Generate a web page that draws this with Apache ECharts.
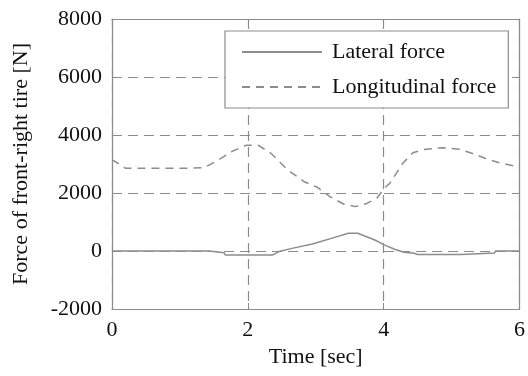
<!DOCTYPE html>
<html>
<head>
<meta charset="utf-8">
<script src="https://cdn.jsdelivr.net/npm/echarts@6/dist/echarts.min.js"></script>
<style>
html,body{margin:0;padding:0;background:#fff;}
#c{width:528px;height:376px;}
</style>
</head>
<body>
<div id="c"></div>
<script>
// Lateral force (solid)
var lateralTime  = [0, 1.43, 1.45, 1.65, 1.67, 2.36, 2.46, 2.65, 2.95, 3.28, 3.48, 3.62, 3.87, 4.01, 4.16, 4.30, 4.45, 4.50, 5.14, 5.16, 5.63, 5.65, 6];
var lateralForce = [0, 0, -60, -60, -140, -140, -20, 90, 240, 470, 610, 610, 380, 210, 60, -45, -80, -120, -120, -70, -70, 0, 0];
// Longitudinal force (dashed)
var longTime  = [0, 0.1, 0.2, 0.5, 1.0, 1.35, 1.54, 1.78, 1.98, 2.15, 2.34, 2.59, 2.83, 3.02, 3.21, 3.41, 3.58, 3.75, 3.9, 4.01, 4.09, 4.28, 4.43, 4.62, 4.86, 5.11, 5.30, 5.49, 5.69, 5.93, 6];
var longForce = [3150, 3000, 2850, 2850, 2850, 2870, 3100, 3450, 3650, 3650, 3370, 2790, 2390, 2200, 1870, 1620, 1530, 1640, 1820, 2170, 2330, 3020, 3390, 3510, 3560, 3510, 3370, 3200, 3050, 2930, 2900];

var xTicks = [0, 2, 4, 6];
var yTicks = [-2000, 0, 2000, 4000, 6000, 8000];

function zip(a, b) { return a.map(function (v, i) { return [v, b[i]]; }); }

var font = 'Liberation Serif';
var gray = '#8c8c8c';
var textColor = '#111';

var chart = echarts.init(document.getElementById('c'));
chart.setOption({
  animation: false,
  backgroundColor: '#fff',
  textStyle: { fontFamily: font },
  grid: { left: 112, right: 3, top: 19, bottom: 67, containLabel: false },
  legend: {
    orient: 'vertical',
    left: 225, top: 31,
    padding: [10, 12, 10, 16],
    itemWidth: 80, itemHeight: 14, itemGap: 13,
    backgroundColor: '#fff',
    borderColor: gray, borderWidth: 1.2, borderRadius: 0,
    itemStyle: { opacity: 0 },
    textStyle: { fontFamily: font, fontSize: 22, color: textColor, padding: [0, 0, 0, 5] },
    data: ['Lateral force', 'Longitudinal force']
  },
  xAxis: [{
    type: 'value', min: 0, max: 6, interval: 2,
    name: 'Time [sec]', nameLocation: 'middle', nameGap: 36,
    nameTextStyle: { fontFamily: font, fontSize: 22, color: textColor },
    axisLine: { show: true, onZero: false, lineStyle: { color: gray, width: 1.2 } },
    axisTick: { show: true, inside: true, length: 6, lineStyle: { color: gray } },
    axisLabel: { fontFamily: font, fontSize: 22, color: textColor, margin: 10,
      formatter: function (v) { return xTicks.indexOf(v) >= 0 ? String(v) : ''; } },
    splitLine: { show: true, lineStyle: { color: gray, type: [10, 6], width: 1.2 } }
  }, {
    type: 'value', min: 0, max: 6, interval: 2, position: 'top',
    axisLine: { show: true, onZero: false, lineStyle: { color: gray, width: 1.2 } },
    axisTick: { show: true, inside: true, length: 6, lineStyle: { color: gray } },
    axisLabel: { show: false }, splitLine: { show: false }
  }],
  yAxis: [{
    type: 'value', min: -2000, max: 8000, interval: 2000,
    name: 'Force of front-right tire [N]', nameLocation: 'middle', nameGap: 80,
    nameTextStyle: { fontFamily: font, fontSize: 22, color: textColor },
    axisLine: { show: true, onZero: false, lineStyle: { color: gray, width: 1.2 } },
    axisTick: { show: true, inside: true, length: 6, lineStyle: { color: gray } },
    axisLabel: { fontFamily: font, fontSize: 22, color: textColor, margin: 10,
      formatter: function (v) { return yTicks.indexOf(v) >= 0 ? String(v) : ''; } },
    splitLine: { show: true, lineStyle: { color: gray, type: [10, 6], width: 1.2 } }
  }, {
    type: 'value', min: -2000, max: 8000, interval: 2000, position: 'right',
    axisLine: { show: true, onZero: false, lineStyle: { color: gray, width: 1.2 } },
    axisTick: { show: true, inside: true, length: 6, lineStyle: { color: gray } },
    axisLabel: { show: false }, splitLine: { show: false }
  }],
  series: [{
    name: 'Lateral force', type: 'line', symbol: 'none',
    data: zip(lateralTime, lateralForce),
    lineStyle: { color: gray, width: 1.5, type: 'solid' },
    itemStyle: { color: gray }
  }, {
    name: 'Longitudinal force', type: 'line', symbol: 'none',
    data: zip(longTime, longForce),
    lineStyle: { color: gray, width: 1.5, type: [8, 6] },
    itemStyle: { color: gray }
  }]
});
</script>
</body>
</html>
